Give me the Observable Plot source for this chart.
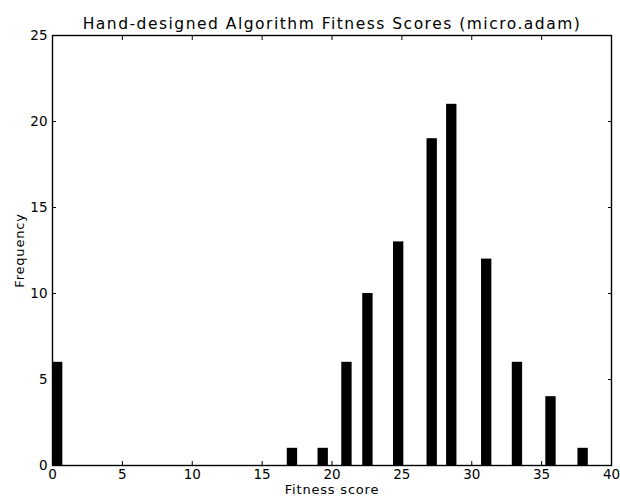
<!DOCTYPE html>
<html>
<head>
<meta charset="utf-8">
<script src="https://cdn.jsdelivr.net/npm/d3@7"></script>
<script src="https://cdn.jsdelivr.net/npm/@observablehq/plot@0.6"></script>
<style>
  html, body { margin: 0; padding: 0; background: #fff; }
  #chart svg { display: block; }
  .ttl text { letter-spacing: 1.5px; }
  .axl text { letter-spacing: 0.8px; }
</style>
</head>
<body>
<div id="chart"></div>
<script>
const titleText = "Hand-designed Algorithm Fitness Scores (micro.adam)";
const xLabel = "Fitness score";
const yLabel = "Frequency";
// left edge of each histogram bar (fitness score) and its count
const binStart = [0, 16.8, 19.0, 20.7, 22.2, 24.4, 26.8, 28.2, 30.7, 32.9, 35.3, 37.6];
const counts   = [6, 1, 1, 6, 10, 13, 19, 21, 12, 6, 4, 1];
const binWidth = 0.74;
const xTicks = [0, 5, 10, 15, 20, 25, 30, 35, 40];
const yTicks = [0, 5, 10, 15, 20, 25];

const bars = binStart.map((s, i) => ({x1: s, x2: s + binWidth, y: counts[i]}));

const font = "DejaVu Sans, Verdana, sans-serif";

const plot = Plot.plot({
  width: 620,
  height: 502,
  marginTop: 35,
  marginBottom: 37,
  marginLeft: 52,
  marginRight: 9,
  style: {fontFamily: font, fontSize: "13px", color: "#000", background: "#fff"},
  x: {domain: [0, 40]},
  y: {domain: [0, 25]},
  marks: [
    Plot.rectY(bars, {x1: "x1", x2: "x2", y: "y", fill: "#000"}),
    Plot.frame({stroke: "#000", strokeWidth: 1.4}),
    // labels
    Plot.axisX(xTicks, {anchor: "bottom", tickSize: 0, tickPadding: 4, fontSize: 13.5, label: null}),
    Plot.axisY(yTicks, {anchor: "left", tickSize: 0, tickPadding: 5, fontSize: 13.5, label: null}),
    // inward ticks on all four sides
    Plot.axisX(xTicks, {anchor: "bottom", tickSize: -4, text: null, label: null}),
    Plot.axisX(xTicks, {anchor: "top", tickSize: -4, text: null, label: null}),
    Plot.axisY(yTicks, {anchor: "left", tickSize: -4, text: null, label: null}),
    Plot.axisY(yTicks, {anchor: "right", tickSize: -4, text: null, label: null}),
    // axis titles and chart title
    Plot.text([xLabel], {frameAnchor: "bottom", dy: 28, fontSize: 13, text: d => d, className: "axl"}),
    Plot.text([yLabel], {frameAnchor: "left", textAnchor: "middle", dx: -33, rotate: -90, fontSize: 13, text: d => d, className: "axl"}),
    Plot.text([titleText], {frameAnchor: "top", dy: -18, fontSize: 15.5, text: d => d, className: "ttl"})
  ]
});
document.getElementById("chart").appendChild(plot);
</script>
</body>
</html>
